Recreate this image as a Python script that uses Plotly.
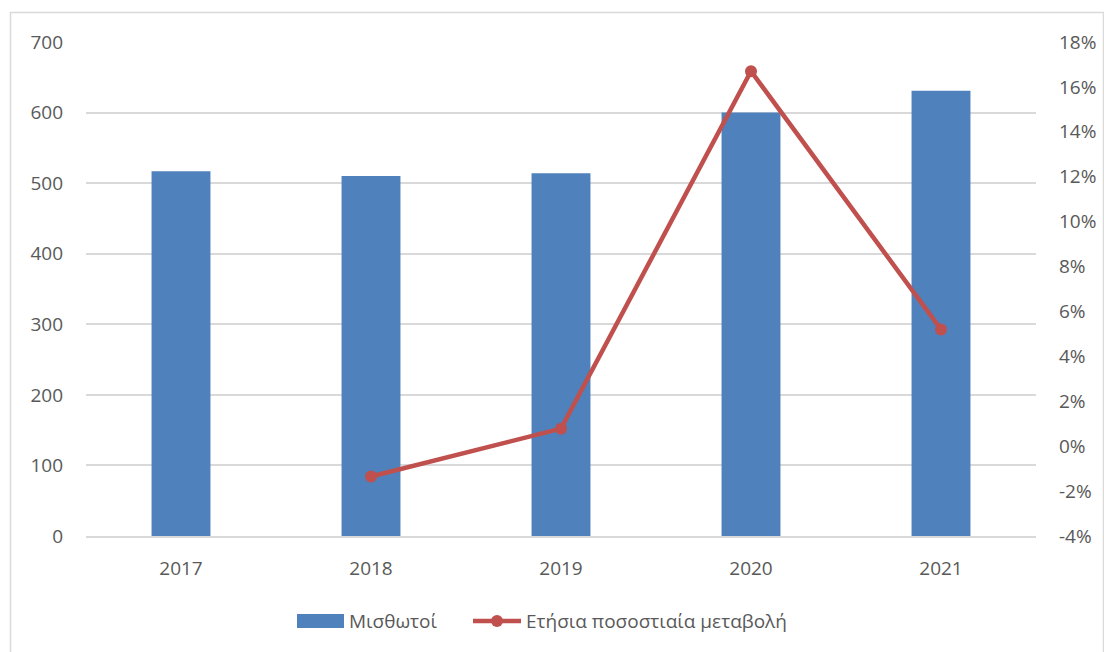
import plotly.graph_objects as go

years = ["2017", "2018", "2019", "2020", "2021"]
employees = [517, 510, 514, 600, 631]
change_years = ["2018", "2019", "2020", "2021"]
change_pct = [-0.0135, 0.0078, 0.167, 0.052]
pct_ticks = [-0.04, -0.02, 0.0, 0.02, 0.04, 0.06, 0.08, 0.10, 0.12, 0.14, 0.16, 0.18]
pct_tick_labels = ["-4%", "-2%", "0%", "2%", "4%", "6%", "8%", "10%", "12%", "14%", "16%", "18%"]
bar_name = "Μισθωτοί"
line_name = "Ετήσια ποσοστιαία μεταβολή"

W, H = 1104, 652
L, R, T, B = 86, 68, 42, 116
pw = W - L - R
ph = H - T - B

font = "'Open Sans', 'Noto Sans', sans-serif"
grey = "#595959"
blue = "#4F81BD"
red = "#C0504D"

fig = go.Figure()
fig.add_trace(go.Bar(x=years, y=employees, name=bar_name,
                     marker=dict(color=blue, line=dict(width=0)),
                     width=0.31, showlegend=False))
fig.add_trace(go.Scatter(x=change_years, y=change_pct, name=line_name,
                         mode="lines+markers", yaxis="y2", showlegend=False,
                         line=dict(color=red, width=4.5),
                         marker=dict(color=red, size=12)))

def px2x(p):
    return (p - L) / pw

def py2y(p):
    return (H - B - p) / ph

shapes = [
    dict(type="rect", xref="paper", yref="paper",
         x0=px2x(10.5), x1=px2x(1103.5), y0=py2y(660), y1=py2y(12.5),
         line=dict(color="#D9D9D9", width=1.5), fillcolor="rgba(0,0,0,0)", layer="below"),
    # legend swatches
    dict(type="rect", xref="paper", yref="paper",
         x0=px2x(297), x1=px2x(344), y0=py2y(628), y1=py2y(614),
         line=dict(width=0), fillcolor=blue),
    dict(type="line", xref="paper", yref="paper",
         x0=px2x(473), x1=px2x(521), y0=py2y(621), y1=py2y(621),
         line=dict(color=red, width=4.5)),
    dict(type="circle", xref="paper", yref="paper",
         x0=px2x(491), x1=px2x(503), y0=py2y(627), y1=py2y(615),
         line=dict(width=0), fillcolor=red),
]
annotations = [
    dict(text=bar_name, xref="paper", yref="paper", x=px2x(347), y=py2y(621),
         xanchor="left", yanchor="middle", showarrow=False,
         font=dict(size=19, color=grey, family=font)),
    dict(text=line_name, xref="paper", yref="paper", x=px2x(524), y=py2y(621),
         xanchor="left", yanchor="middle", showarrow=False,
         font=dict(size=19, color=grey, family=font)),
]

fig.update_layout(
    width=W, height=H,
    margin=dict(l=L, r=R, t=T, b=B, autoexpand=False),
    paper_bgcolor="white", plot_bgcolor="white",
    font=dict(family=font, size=20, color=grey),
    showlegend=False,
    shapes=shapes, annotations=annotations,
    bargap=0.69,
    xaxis=dict(type="category", showgrid=False, showline=True, linecolor="#D9D9D9", linewidth=2,
               ticks="", tickfont=dict(size=19, color=grey), ticklabelstandoff=14,
               automargin=False),
    yaxis=dict(range=[0, 700], dtick=100, showgrid=True, gridcolor="#D9D9D9", gridwidth=2,
               zeroline=False, showline=False, ticks="", tickfont=dict(size=19, color=grey),
               ticklabelstandoff=22, automargin=False),
    yaxis2=dict(range=[-0.04, 0.18], tickmode="array", tickvals=pct_ticks, ticktext=pct_tick_labels,
                overlaying="y", side="right",
                showgrid=False, zeroline=False, showline=False, ticks="",
                tickfont=dict(size=19, color=grey), ticklabelstandoff=22, automargin=False),
)

fig.write_html("out.html")
